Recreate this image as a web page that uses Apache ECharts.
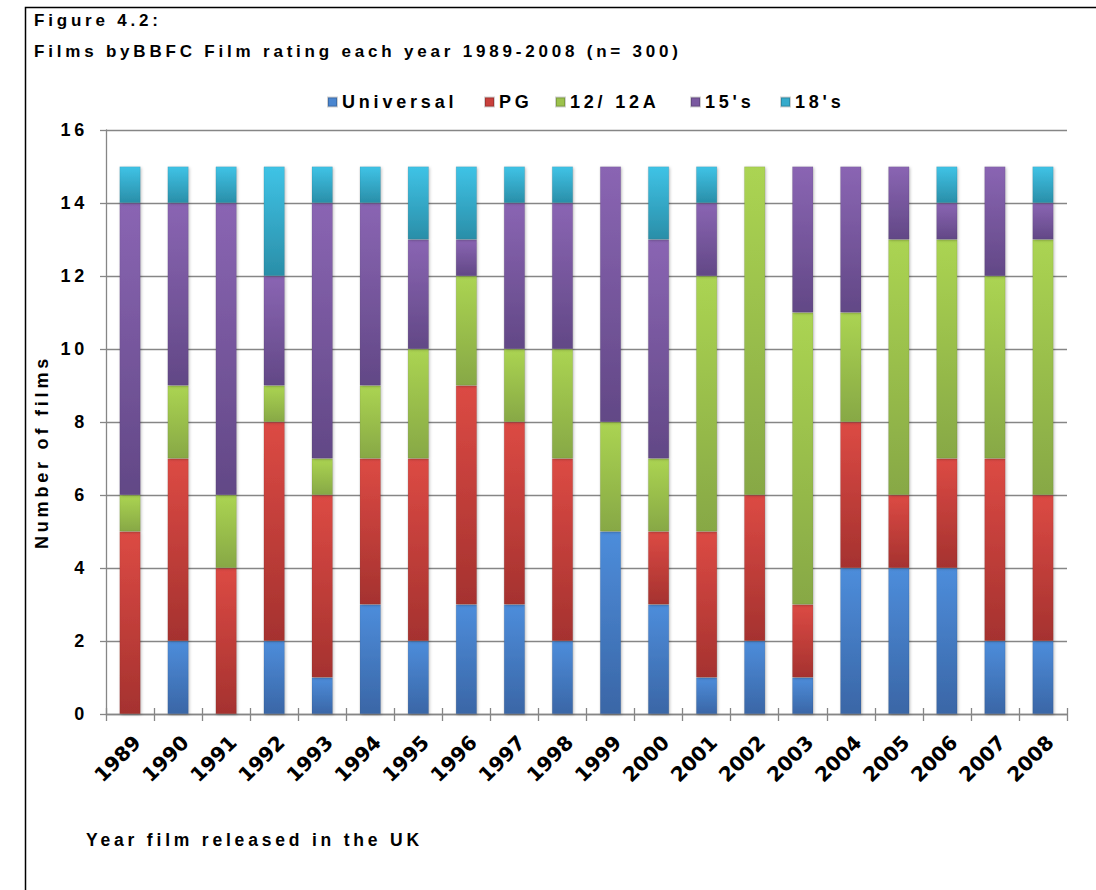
<!DOCTYPE html>
<html>
<head>
<meta charset="utf-8">
<script src="https://cdn.jsdelivr.net/npm/echarts@6/dist/echarts.min.js"></script>
<style>
  html, body { margin: 0; padding: 0; background: #fff; }
  #chart-container { width: 1096px; height: 890px; }
</style>
</head>
<body>
<div id="chart-container"></div>
<script>
var years = ['1989', '1990', '1991', '1992', '1993', '1994', '1995', '1996', '1997', '1998',
             '1999', '2000', '2001', '2002', '2003', '2004', '2005', '2006', '2007', '2008'];
var seriesNames = ['Universal', 'PG', '12/ 12A', "15's", "18's"];
var universal = [0, 2, 0, 2, 1, 3, 2, 3, 3, 2, 5, 3, 1, 2, 1, 4, 4, 4, 2, 2];
var pg        = [5, 5, 4, 6, 5, 4, 5, 6, 5, 5, 0, 2, 4, 4, 2, 4, 2, 3, 5, 4];
var rated12   = [1, 2, 2, 1, 1, 2, 3, 3, 2, 3, 3, 2, 7, 9, 8, 3, 7, 6, 5, 7];
var rated15   = [8, 5, 8, 3, 7, 5, 3, 1, 4, 4, 7, 6, 2, 0, 4, 4, 2, 1, 3, 1];
var rated18   = [1, 1, 1, 3, 1, 1, 2, 2, 1, 1, 0, 2, 1, 0, 0, 0, 0, 1, 0, 1];
var yTicks = [0, 2, 4, 6, 8, 10, 12, 14, 16];

(function () {
    var domChart = document.getElementById('chart-container');
    var ioChart = echarts.init(domChart, null, { renderer: 'svg' });
    var fontFamily = '"Liberation Sans", Arial, sans-serif';
    var yearFont = '"DejaVu Sans", Verdana, sans-serif';

    // top colour, bottom colour of each segment
    var colours = [
        ['#4d8ddb', '#3a66a6'],
        ['#dc4a44', '#a5322f'],
        ['#abd452', '#87a845'],
        ['#8a65b3', '#624886'],
        ['#3fc3e6', '#2a8ea8']
    ];
    var solid = ['#4a86d0', '#c9403c', '#9cc24c', '#7a59a0', '#35abcc'];
    // left edge of each legend entry (spaced-out text, so one legend per entry)
    var legendLeft = [322, 479, 550, 685, 775];

    function grad(c) {
        return new echarts.graphic.LinearGradient(0, 0, 0, 1, [
            { offset: 0, color: c[0] },
            { offset: 1, color: c[1] }
        ]);
    }

    var allData = [universal, pg, rated12, rated15, rated18];
    var _seriesData = [];
    var _legends = [];
    for (var i = 0; i < allData.length; i++) {
        _seriesData.push({
            name: seriesNames[i],
            type: 'bar',
            stack: 'films',
            barWidth: 21,
            data: allData[i],
            itemStyle: {
                color: grad(colours[i]),
                borderColor: 'rgba(0,0,0,0.18)',
                borderWidth: 0.5,
                shadowBlur: 3,
                shadowOffsetX: 1,
                shadowOffsetY: 1,
                shadowColor: 'rgba(0,0,0,0.25)'
            },
            emphasis: { disabled: true }
        });
        _legends.push({
            top: 88,
            left: legendLeft[i],
            itemWidth: 9,
            itemHeight: 9,
            icon: 'rect',
            data: [{ name: seriesNames[i], itemStyle: { color: solid[i] } }],
            textStyle: {
                fontFamily: fontFamily,
                fontSize: 18,
                fontWeight: 'bold',
                color: '#000'
            }
        });
    }

    var axisGrey = '#868686';

    var chartOption = {
        backgroundColor: '#fff',
        animation: false,
        color: solid,
        textStyle: { fontFamily: fontFamily },
        title: {
            text: 'Figure 4.2:\nFilms byBBFC Film rating each year 1989-2008 (n= 300)',
            left: 29,
            top: 0,
            textStyle: {
                fontFamily: fontFamily,
                fontSize: 17,
                fontWeight: 'bold',
                color: '#000',
                lineHeight: 31
            }
        },
        legend: _legends,
        grid: {
            left: 106,
            right: 29,
            top: 130,
            bottom: 176,
            containLabel: false
        },
        xAxis: [
            {
                type: 'category',
                data: years,
                axisLine: { lineStyle: { color: axisGrey, width: 1.3 } },
                axisTick: { show: true, length: 7, lineStyle: { color: axisGrey, width: 1.3 } },
                axisLabel: {
                    rotate: 45,
                    margin: 18,
                    fontSize: 20,
                    fontWeight: 'bold',
                    color: '#000',
                    fontFamily: yearFont,
                    verticalAlign: 'top'
                }
            },
            {
                type: 'category',
                data: years,
                position: 'bottom',
                axisLine: { show: false },
                axisTick: { show: true, inside: true, length: 6, lineStyle: { color: axisGrey, width: 1.3 } },
                axisLabel: { show: false }
            }
        ],
        yAxis: {
            type: 'value',
            min: 0,
            max: 16,
            interval: 2,
            axisLine: { show: true, lineStyle: { color: axisGrey, width: 1.3 } },
            axisTick: { show: true, length: 6, lineStyle: { color: axisGrey, width: 1.3 } },
            splitLine: { lineStyle: { color: axisGrey, width: 1.3 } },
            axisLabel: {
                margin: 18,
                fontSize: 18,
                fontWeight: 'bold',
                color: '#000',
                fontFamily: fontFamily,
                formatter: function (v) {
                    return yTicks.indexOf(v) >= 0 ? String(v) : '';
                }
            }
        },
        graphic: [
            {
                type: 'rect',
                left: 23,
                top: 5,
                shape: { width: 1100, height: 900 },
                style: { fill: 'none', stroke: '#000', lineWidth: 1.5 },
                silent: true
            },
            {
                type: 'text',
                x: 42,
                y: 452,
                rotation: Math.PI / 2,
                style: {
                    text: 'Number of films',
                    fontFamily: fontFamily,
                    fontSize: 18,
                    fontWeight: 'bold',
                    fill: '#000',
                    align: 'center',
                    verticalAlign: 'middle'
                }
            },
            {
                type: 'text',
                left: 86,
                top: 831,
                style: {
                    text: 'Year film released in the UK',
                    fontFamily: fontFamily,
                    fontSize: 17.5,
                    fontWeight: 'bold',
                    fill: '#000'
                }
            }
        ],
        series: _seriesData
    };

    // the source chart spaces its letters out; only the year labels are plain
    function spaceLetters() {
        var texts = domChart.querySelectorAll('svg text');
        for (var k = 0; k < texts.length; k++) {
            var ff = window.getComputedStyle(texts[k]).fontFamily || '';
            if (ff.indexOf('DejaVu') >= 0) continue;
            texts[k].style.letterSpacing = '3.8px';
        }
    }

    ioChart.setOption(chartOption);
    spaceLetters();
    ioChart.on('finished', spaceLetters);
})();
</script>
</body>
</html>
